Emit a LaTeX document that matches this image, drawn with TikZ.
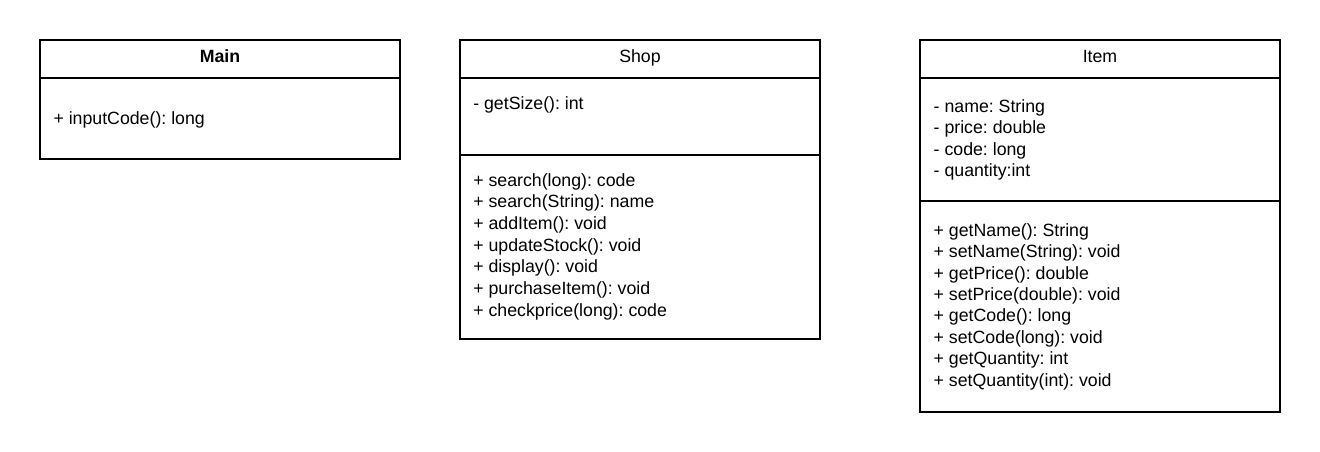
\documentclass[tikz,border=0pt]{standalone}
\usepackage{fontspec}
\setmainfont{Liberation Sans}
\usetikzlibrary{positioning}
\frenchspacing
\tikzset{every path/.style={black,line width=1.5pt},
  compartment/.style={draw, outer sep=0pt, inner sep=0pt, minimum width=270pt},
  member/.style={anchor=base west, inner sep=0pt, font=\fontsize{13.3}{16}\selectfont},
  classname/.style={anchor=base, inner sep=0pt, font=\fontsize{13.3}{16}\selectfont}}

\begin{document}
\begin{tikzpicture}[x=0.75pt,y=-0.75pt]
  \useasboundingbox (0,0) rectangle (1320,452);
  % Main
  \node[compartment, minimum height=28.5pt, anchor=north west] (maintitle) at (40,40) {};
  \node[compartment, minimum height=60.75pt, below=0pt of maintitle] (mainops) {};
  \node[classname, font=\fontsize{13.3}{16}\selectfont\bfseries] (mainname) at (220,62.3) {Main};
  \node[member] (main1) at (52.5,124.8) {+ inputCode(): long};
  % Shop
  \node[compartment, minimum height=28.5pt, anchor=north west] (shoptitle) at (460,40) {};
  \node[compartment, minimum height=57.4pt, below=0pt of shoptitle] (shopattr) {};
  \node[compartment, minimum height=138.4pt, below=0pt of shopattr] (shopops) {};
  \node[classname] (shopname) at (640,62.3) {Shop};
  \node[member] (shopa1) at (472.3,109.5) {- getSize(): int};
  \node[member] (shop1) at (472.3,186.2) {+ search(long): code};
  \node[member] (shop2) at (472.3,207.9) {+ search(String): name};
  \node[member] (shop3) at (472.3,229.5) {+ addItem(): void};
  \node[member] (shop4) at (472.3,251.2) {+ updateStock(): void};
  \node[member] (shop5) at (472.3,272.9) {+ display(): void};
  \node[member] (shop6) at (472.3,294.5) {+ purchaseItem(): void};
  \node[member] (shop7) at (472.3,316.2) {+ checkprice(long): code};
  % Item
  \node[compartment, minimum height=28.5pt, anchor=north west] (itemtitle) at (920,40) {};
  \node[compartment, minimum height=92.6pt, below=0pt of itemtitle] (itemattr) {};
  \node[compartment, minimum height=157.9pt, below=0pt of itemattr] (itemops) {};
  \node[classname] (itemname) at (1100,62.3) {Item};
  \node[member] (itema1) at (932.7,112.5) {- name: String};
  \node[member] (itema2) at (932.7,133.8) {- price: double};
  \node[member] (itema3) at (932.7,155.1) {- code: long};
  \node[member] (itema4) at (932.7,176.4) {- quantity:int};
  \node[member] (item1) at (932.7,236.2) {+ getName(): String};
  \node[member] (item2) at (932.7,257.6) {+ setName(String): void};
  \node[member] (item3) at (932.7,279.1) {+ getPrice(): double};
  \node[member] (item4) at (932.7,300.5) {+ setPrice(double): void};
  \node[member] (item5) at (932.7,321.9) {+ getCode(): long};
  \node[member] (item6) at (932.7,343.3) {+ setCode(long): void};
  \node[member] (item7) at (932.7,364.8) {+ getQuantity: int};
  \node[member] (item8) at (932.7,386.2) {+ setQuantity(int): void};
\end{tikzpicture}
\end{document}
